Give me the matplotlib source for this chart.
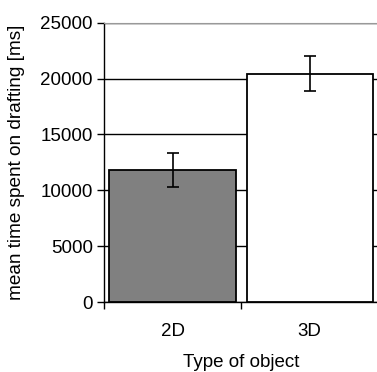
import matplotlib.pyplot as plt
import numpy as np

plt.rcParams['font.family'] = ['Liberation Sans', 'DejaVu Sans']

# data
categories = ["2D", "3D"]
means = [11800, 20450]
errors = [1500, 1580]
colors = ["#808080", "#ffffff"]

fig = plt.figure(figsize=(3.77, 3.72), dpi=100)
ax = fig.add_axes([0.2759, 0.188, 0.727, 0.751])

x = np.arange(len(categories))
ax.bar(x, means, width=0.92, color=colors, edgecolor="black", linewidth=1.3, zorder=3)
ax.errorbar(x, means, yerr=errors, fmt="none", ecolor="black", elinewidth=1.2,
            capsize=4.5, capthick=1.2, zorder=4)

ax.set_xlim(-0.5, len(categories) - 0.5)
ax.set_ylim(0, 25000)
ax.set_yticks(np.arange(0, 25001, 5000))
ax.set_xticks(x)
ax.set_xticklabels(categories)
ax.tick_params(axis="x", which="major", length=0, pad=15, labelsize=13.5)
ax.set_xticks(np.arange(-0.5, len(categories)), minor=True)
ax.tick_params(axis="x", which="minor", length=5, width=1, direction="out")
ax.tick_params(axis="y", length=5, width=1, direction="out", labelsize=13.5, pad=3)

ax.yaxis.grid(True, color="black", linewidth=1, zorder=0)
ax.set_axisbelow(True)
ax.spines["right"].set_visible(False)
ax.spines["top"].set_color("#999999")
ax.spines["left"].set_linewidth(1)
ax.spines["bottom"].set_linewidth(1)

ax.set_ylabel("mean time spent on drafting [ms]", fontsize=13.7, labelpad=11)
ax.set_xlabel("Type of object", fontsize=13.5, labelpad=10)

fig.savefig("out.png", dpi=100)
